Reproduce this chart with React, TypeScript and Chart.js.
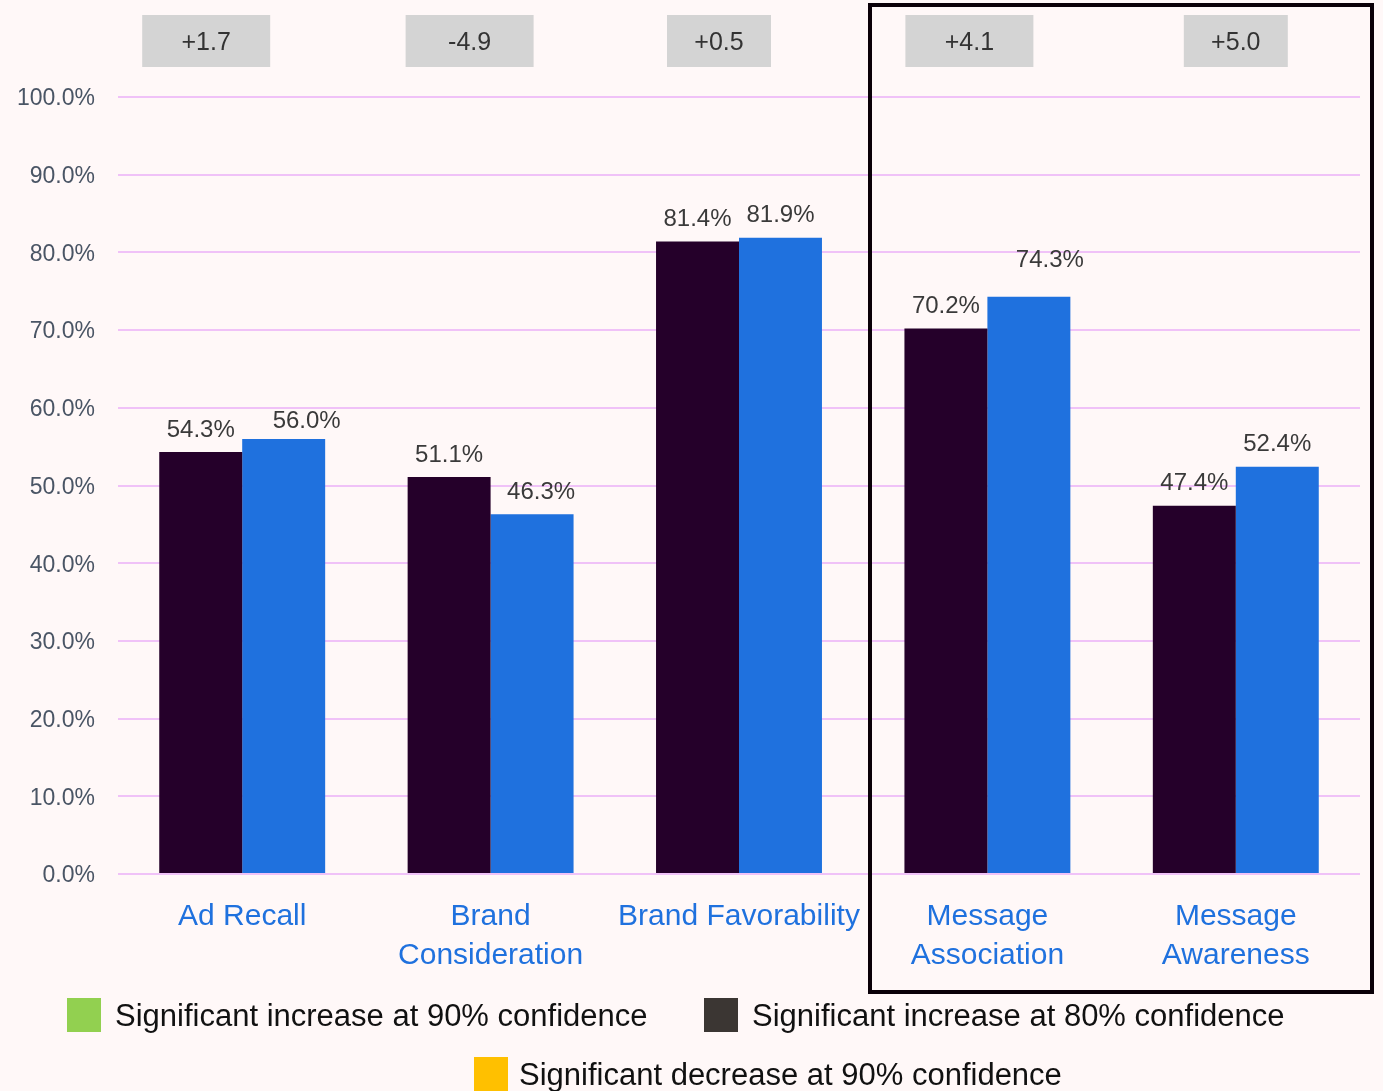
import React, { useEffect, useRef } from "react";
import { Chart, registerables } from "chart.js";

Chart.register(...registerables);

const categories: (string | string[])[] = [
  "Ad Recall",
  ["Brand", "Consideration"],
  "Brand Favorability",
  ["Message", "Association"],
  ["Message", "Awareness"],
];
const controlValues = [54.3, 51.1, 81.4, 70.2, 47.4];
const exposedValues = [56.0, 46.3, 81.9, 74.3, 52.4];
const deltaLabels = ["+1.7", "-4.9", "+0.5", "+4.1", "+5.0"];
const yTicks = [0, 10, 20, 30, 40, 50, 60, 70, 80, 90, 100];
const legendItems = [
  "Significant increase at 90% confidence",
  "Significant increase at 80% confidence",
  "Significant decrease at 90% confidence",
];

// layout / style constants
const W = 1383;
const H = 1091;
const BG = "#FFF8F8";
const DARK = "#25002A";
const BLUE = "#1F71DE";
const FONT = "'Liberation Sans', Arial, sans-serif";
const boxOffsets = [-36, -21, -20, -18, 0];
const boxWidths = [128, 128, 104, 128, 104];
const blueLabelShiftX = [23, 9, 0, 21, 0];
const blueLabelShiftY = [4, 0, 0, -14, 0];
const legendColors = ["#92D050", "#3B3633", "#FFC000"];
const legendPos = [
  { x: 67, y: 998, tx: 115 },
  { x: 704, y: 998, tx: 752 },
  { x: 474, y: 1057, tx: 519 },
];

const overlayPlugin = {
  id: "overlay",
  beforeDraw(chart: any) {
    const ctx = chart.ctx;
    ctx.save();
    ctx.fillStyle = BG;
    ctx.fillRect(0, 0, chart.width, chart.height);
    ctx.restore();
  },
  afterDraw(chart: any) {
    const ctx = chart.ctx;
    const xs = chart.scales.x;
    ctx.save();
    // value labels
    ctx.font = `24px ${FONT}`;
    ctx.fillStyle = "#3A3A3A";
    ctx.textAlign = "center";
    ctx.textBaseline = "middle";
    chart.data.datasets.forEach((ds: any, di: number) => {
      const meta = chart.getDatasetMeta(di);
      meta.data.forEach((bar: any, i: number) => {
        const dx = di === 1 ? blueLabelShiftX[i] : 0;
        const dy = di === 1 ? blueLabelShiftY[i] : 0;
        ctx.fillText(ds.data[i].toFixed(1) + "%", bar.x + dx, bar.y - 22 + dy);
      });
    });
    // delta boxes
    deltaLabels.forEach((lab, i) => {
      const cx = xs.getPixelForValue(i) + boxOffsets[i];
      const w = boxWidths[i];
      ctx.fillStyle = "#D4D4D4";
      ctx.fillRect(cx - w / 2, 15, w, 52);
      ctx.fillStyle = "#333333";
      ctx.font = `25px ${FONT}`;
      ctx.fillText(lab, cx, 43);
    });
    // frame
    ctx.strokeStyle = "#0A0008";
    ctx.lineWidth = 4;
    ctx.strokeRect(870, 5, 502, 987);
    // legend
    ctx.textAlign = "left";
    ctx.font = `31px ${FONT}`;
    legendItems.forEach((t, i) => {
      const p = legendPos[i];
      ctx.fillStyle = legendColors[i];
      ctx.fillRect(p.x, p.y, 34, 34);
      ctx.fillStyle = "#111111";
      ctx.fillText(t, p.tx, p.y + 19);
    });
    ctx.restore();
  },
};

export default function App() {
  const ref = useRef<HTMLCanvasElement>(null);
  useEffect(() => {
    document.body.style.margin = "0";
    document.body.style.background = BG;
    const chart = new Chart(ref.current!, {
      type: "bar",
      data: {
        labels: categories,
        datasets: [
          {
            label: "Control",
            data: controlValues,
            backgroundColor: DARK,
            categoryPercentage: 0.668,
            barPercentage: 1,
          },
          {
            label: "Exposed",
            data: exposedValues,
            backgroundColor: BLUE,
            categoryPercentage: 0.668,
            barPercentage: 1,
          },
        ],
      },
      options: {
        animation: false,
        responsive: false,
        maintainAspectRatio: false,
        layout: { padding: { top: 97, right: 23, left: 0, bottom: 0 } },
        plugins: { legend: { display: false }, tooltip: { enabled: false } },
        scales: {
          x: {
            grid: { display: false, drawTicks: false },
            border: { display: false },
            ticks: {
              color: BLUE,
              font: { family: FONT, size: 30, lineHeight: 1.3 },
              padding: 23,
              maxRotation: 0,
              autoSkip: false,
            },
            afterFit: (s: any) => {
              s.height = H - 874;
            },
          },
          y: {
            min: yTicks[0],
            max: yTicks[yTicks.length - 1],
            afterBuildTicks: (s: any) => {
              s.ticks = yTicks.map((v) => ({ value: v }));
            },
            grid: { color: "#F0C2F8", lineWidth: 2, drawTicks: false },
            border: { display: false },
            ticks: {
              color: "#4A5565",
              font: { family: FONT, size: 23 },
              padding: 23,
              labelOffset: 2,
              callback: (v: any) => Number(v).toFixed(1) + "%",
            },
            afterFit: (s: any) => {
              s.width = 118;
            },
          },
        },
      },
      plugins: [overlayPlugin],
    });
    return () => chart.destroy();
  }, []);
  return (
    <div style={{ width: W, height: H, background: BG }}>
      <canvas ref={ref} width={W} height={H} style={{ display: "block" }} />
    </div>
  );
}
